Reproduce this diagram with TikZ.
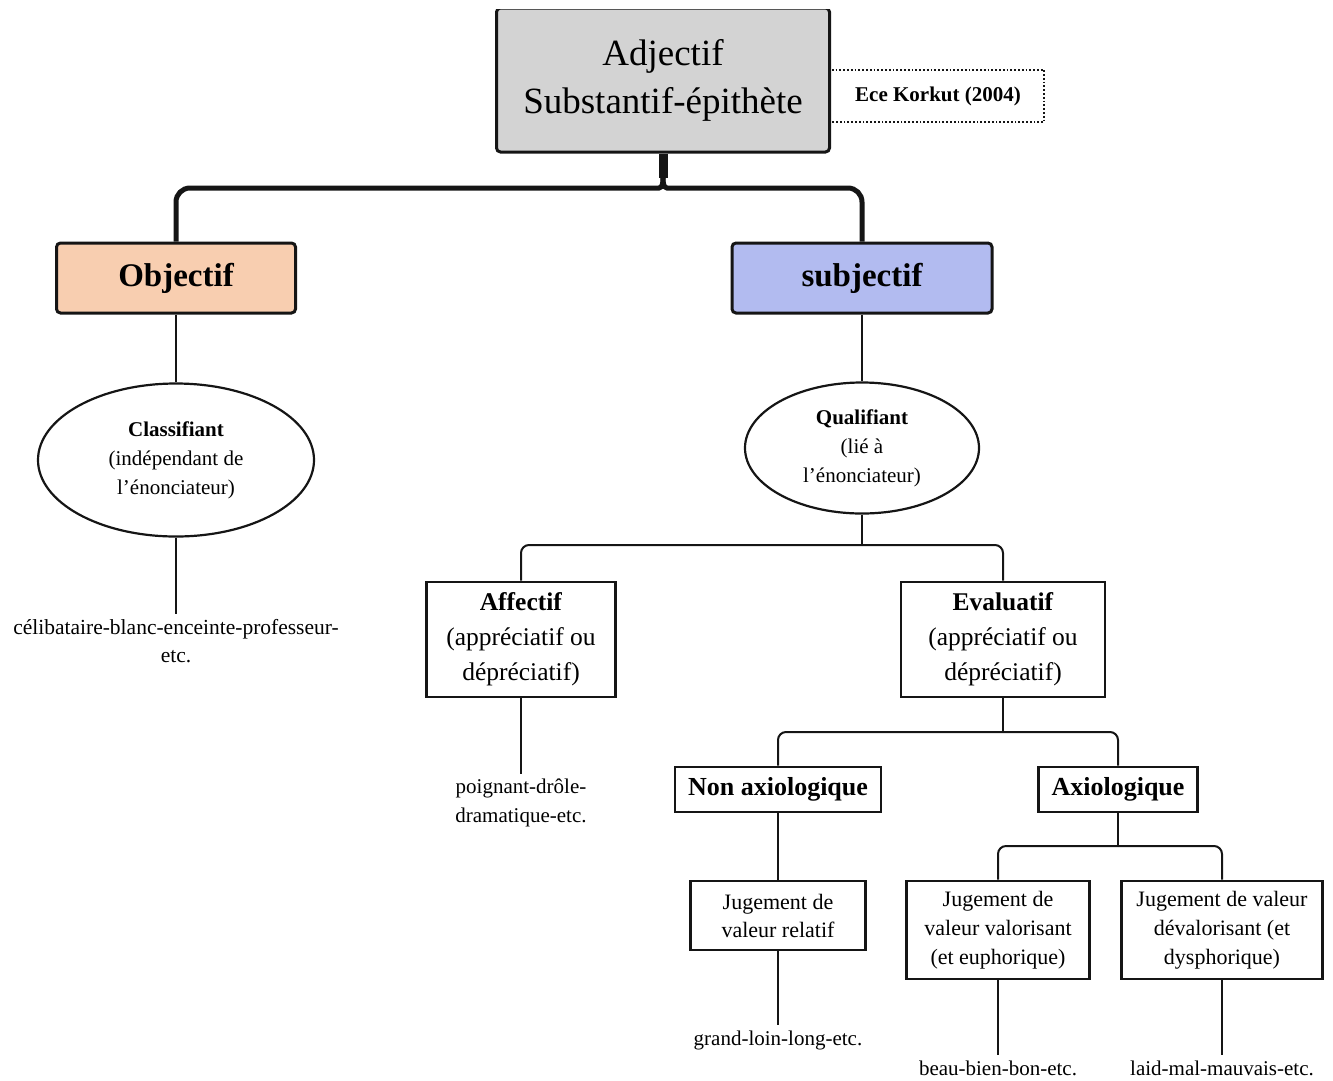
\documentclass[tikz,border=0pt]{standalone}
\usepackage{fontspec}
\setmainfont{Liberation Serif}
\usetikzlibrary{shapes.geometric,calc}
\definecolor{boxgray}{HTML}{D3D3D3}
\definecolor{peach}{HTML}{F8CEB0}
\definecolor{lavblue}{HTML}{B2BBF0}
\definecolor{ink}{HTML}{151515}
\tikzset{
  conn/.style={draw=ink, line width=2pt},
  rbox/.style={draw=ink, line width=3pt, rounded corners=4pt, inner sep=0pt, align=center},
  sqbox/.style={draw=ink, line width=2.8pt, inner sep=0pt, align=center},
  ell/.style={ellipse, draw=ink, line width=2.2pt, inner sep=0pt, align=center},
  lab/.style={inner sep=0pt, align=center},
  elbow/.style={conn, rounded corners=8pt},
  brace/.style={draw=ink, line width=5pt, rounded corners=14pt}
}
\begin{document}
\begin{tikzpicture}[x=1pt,y=-1pt]
\useasboundingbox (0,0) rectangle (1333,1080);
% top box (top edge cut off)
\begin{scope}
\clip (0,9.6) rectangle (1333,200);
\node[rbox, fill=boxgray, minimum width=333pt, minimum height=144pt,
  font=\fontsize{37}{48}\selectfont] (top) at (663,80)
  {Adjectif\\Substantif-épithète};
\end{scope}
\node[lab, minimum width=212pt, minimum height=52pt, font=\bfseries\fontsize{21}{24}\selectfont] (ece) at (938,96)
  {Ece Korkut (2004)};
\draw[dotted, line width=1.8pt, draw=ink] (ece.north west) -- (ece.north east) -- (ece.south east) -- (ece.south west);

% level 1
\node[rbox, fill=peach, minimum width=239pt, minimum height=70pt, font=\bfseries\fontsize{33}{40}\selectfont] (obj) at (176,278)
  {Objectif};
\node[rbox, fill=lavblue, minimum width=260pt, minimum height=70pt, font=\bfseries\fontsize{33}{40}\selectfont] (subj) at (862,278)
  {subjectif};
\coordinate (jt) at (663,178);
\draw[draw=ink, line width=9pt] (top.south) -- (jt);
\draw[brace] (jt) .. controls (663,188) and (660,188) .. (645,188) -| (obj.north);
\draw[brace] (jt) .. controls (663,188) and (666,188) .. (681,188) -| (subj.north);

% left column
\node[ell, minimum width=276pt, minimum height=153pt, font=\fontsize{21}{29}\selectfont] (cls) at (176,460)
  {\textbf{Classifiant}\\(indépendant de\\l'énonciateur)};
\draw[conn] (obj.south) -- (cls.north);
\node[lab, font=\fontsize{21.5}{28}\selectfont] (ex1) at (176,641)
  {célibataire-blanc-enceinte-professeur-\\etc.};
\draw[conn, shorten >=5pt] (cls.south) -- (ex1.north);

% right column
\node[ell, minimum width=234pt, minimum height=131pt, font=\fontsize{21}{29}\selectfont] (qual) at (862,448)
  {\textbf{Qualifiant}\\(lié à\\l'énonciateur)};
\draw[conn] (subj.south) -- (qual.north);
\coordinate (j1) at (862,545);
\draw[conn] (qual.south) -- (j1);

\node[sqbox, minimum width=189pt, minimum height=115pt, font=\fontsize{25.5}{35}\selectfont] (aff) at (521,639.5)
  {\textbf{Affectif}\\(appréciatif ou\\dépréciatif)};
\node[sqbox, minimum width=204pt, minimum height=115pt, font=\fontsize{25.5}{35}\selectfont] (eva) at (1003,639.5)
  {\textbf{Evaluatif}\\(appréciatif ou\\dépréciatif)};
\draw[elbow] (j1) -| (aff.north);
\draw[elbow] (j1) -| (eva.north);

\node[lab, font=\fontsize{21}{29}\selectfont] (ex2) at (521,803)
  {poignant-drôle-\\dramatique-etc.};
\draw[conn, shorten >=5pt] (aff.south) -- (ex2.north);

\coordinate (j2) at (1003,732);
\draw[conn] (eva.south) -- (j2);
\node[sqbox, minimum width=206pt, minimum height=45pt, font=\bfseries\fontsize{26}{32}\selectfont] (nonax) at (778,789.5)
  {Non axiologique};
\node[sqbox, minimum width=159pt, minimum height=45pt, font=\bfseries\fontsize{26}{32}\selectfont] (ax) at (1118,789.5)
  {Axiologique};
\draw[elbow] (j2) -| (nonax.north);
\draw[elbow] (j2) -| (ax.north);

\node[sqbox, minimum width=175pt, minimum height=69pt, font=\fontsize{22}{28}\selectfont] (rel) at (778,915.5)
  {Jugement de\\valeur relatif};
\draw[conn] (nonax.south) -- (rel.north);

\coordinate (j3) at (1118,846);
\draw[conn] (ax.south) -- (j3);
\node[sqbox, minimum width=183pt, minimum height=98pt, font=\fontsize{22}{29}\selectfont] (val) at (998,930)
  {Jugement de\\valeur valorisant\\(et euphorique)};
\node[sqbox, minimum width=201pt, minimum height=98pt, font=\fontsize{22}{29}\selectfont] (dev) at (1222,930)
  {Jugement de valeur\\dévalorisant (et\\dysphorique)};
\draw[elbow] (j3) -| (val.north);
\draw[elbow] (j3) -| (dev.north);

\node[lab, font=\fontsize{21}{28}\selectfont] (ex3) at (778,1040) {grand-loin-long-etc.};
\node[lab, font=\fontsize{21}{28}\selectfont] (ex4) at (998,1068) {beau-bien-bon-etc.};
\node[lab, font=\fontsize{21}{28}\selectfont] (ex5) at (1222,1068) {laid-mal-mauvais-etc.};
\draw[conn, shorten >=5pt] (rel.south) -- (ex3.north);
\draw[conn, shorten >=5pt] (val.south) -- (ex4.north);
\draw[conn, shorten >=5pt] (dev.south) -- (ex5.north);
\end{tikzpicture}
\end{document}
